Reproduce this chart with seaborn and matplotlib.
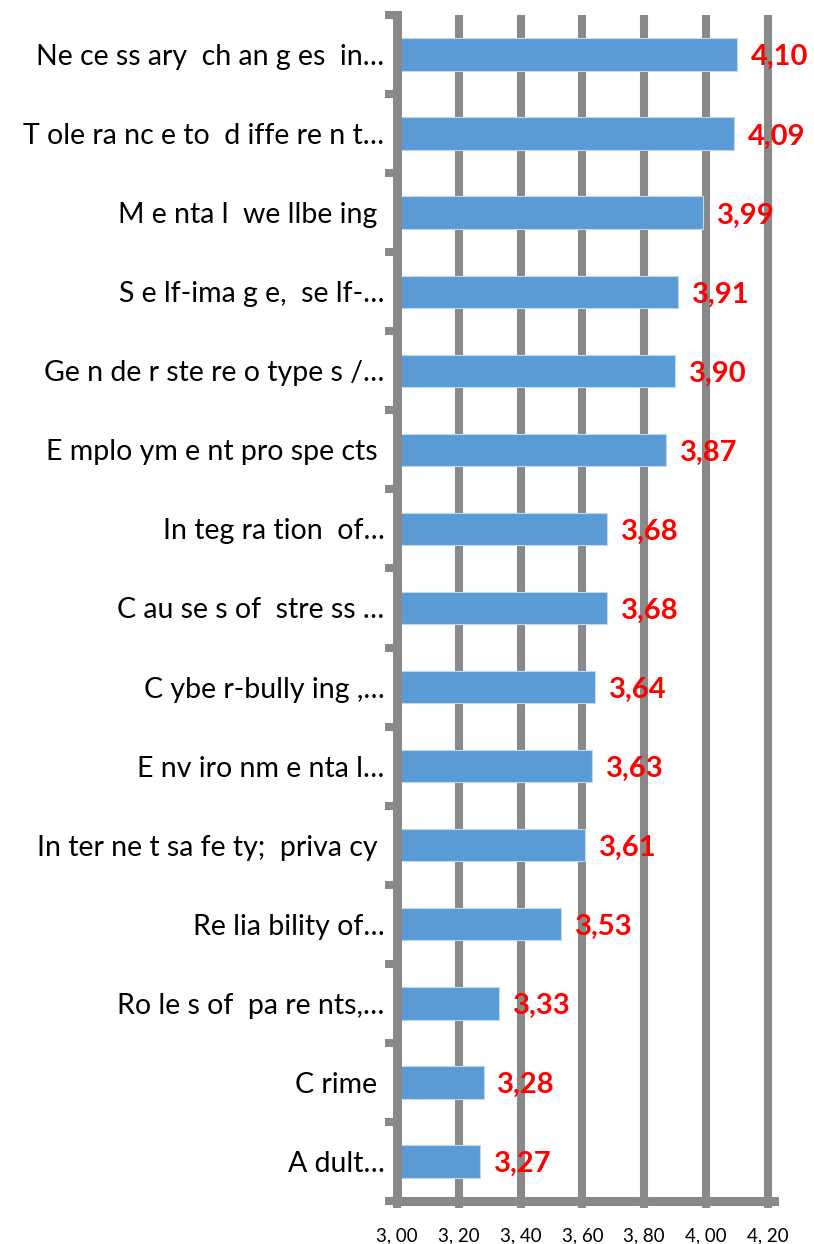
import matplotlib
matplotlib.use("Agg")
import matplotlib.pyplot as plt
import seaborn as sns
import pandas as pd
import numpy as np
from matplotlib.ticker import FixedLocator

categories = [
    "Ne ce ss ary  ch an g es  in…",
    "T ole ra nc e to  d iffe re n t…",
    "M e nta l  we llbe ing ",
    "S e lf-ima g e,  se lf-…",
    "Ge n de r ste re o type s /…",
    "E mplo ym e nt pro spe cts ",
    "In teg ra tion  of…",
    "C au se s of  stre ss …",
    "C ybe r-bully ing ,…",
    "E nv iro nm e nta l…",
    "In ter ne t sa fe ty;  priva cy ",
    "Re lia bility of…",
    "Ro le s of  pa re nts,…",
    "C rime ",
    "A dult…",
]
values = [4.10, 4.09, 3.99, 3.91, 3.90, 3.87, 3.68, 3.68, 3.64, 3.63, 3.61, 3.53, 3.33, 3.28, 3.27]
x_ticks = [3.00, 3.20, 3.40, 3.60, 3.80, 4.00, 4.20]
x_tick_labels = ["3, 00", "3, 20", "3, 40", "3, 60", "3, 80", "4, 00", "4, 20"]

GREY = "#898989"
BAR = "#5B9BD5"

sns.set_theme(style="white")
plt.rcParams['font.family'] = ['Lato', 'DejaVu Sans']

W, H = 814, 1244
fig = plt.figure(figsize=(W / 100, H / 100), dpi=100)
ax = fig.add_axes([397 / W, 1 - 1201 / H, 377 / W, 1186 / H])

df = pd.DataFrame({"cat": categories, "val": values})
sns.barplot(data=df, y="cat", x="val", orient="h", color=BAR, saturation=1,
            width=0.41, edgecolor="#BDD7EE", linewidth=0.8, ax=ax)

ax.set_xlim(3.0, 4.22)
ax.set_ylim(len(categories) - 0.5, -0.5)
ax.set_xlabel("")
ax.set_ylabel("")

ax.set_xticks(x_ticks)
ax.set_xticklabels(x_tick_labels, fontsize=13.5)
ax.xaxis.grid(True, color=GREY, linewidth=5.8)
ax.yaxis.grid(False)
ax.set_axisbelow(True)

ax.yaxis.set_minor_locator(FixedLocator(np.arange(-0.5, len(categories), 1.0)))
ax.tick_params(axis='y', which='major', length=0, pad=9, labelsize=20.5, labelcolor='black')
ax.tick_params(axis='y', which='minor', length=9, width=5.8, color=GREY, direction='out', left=True)
ax.tick_params(axis='x', which='major', length=5, width=5.8, color=GREY, direction='out',
               bottom=True, pad=14, labelcolor='black')

for s in ["top", "right"]:
    ax.spines[s].set_visible(False)
for s in ["left", "bottom"]:
    ax.spines[s].set_color(GREY)
    ax.spines[s].set_linewidth(6.5)

for i, v in enumerate(values):
    ax.annotate(f"{v:.2f}".replace(".", ","), xy=(v, i), xytext=(10, -2),
                textcoords="offset points", ha="left", va="center",
                color="#FF0000", fontweight="bold", fontsize=21)

fig.savefig("out.png", dpi=100)
